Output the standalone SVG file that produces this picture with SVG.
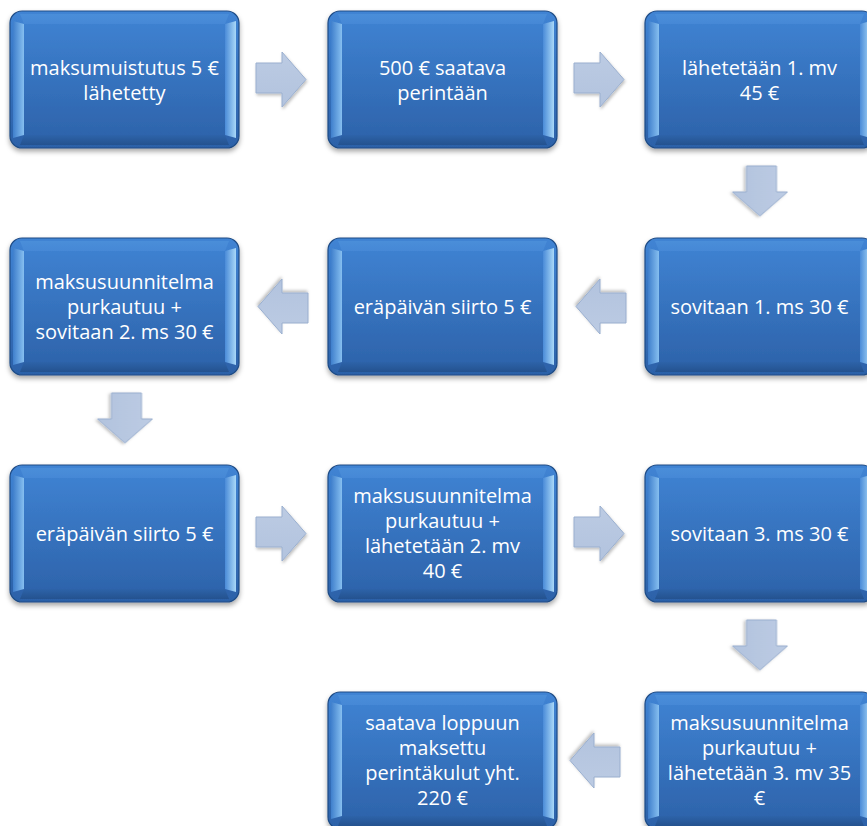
<svg xmlns="http://www.w3.org/2000/svg" xmlns:xlink="http://www.w3.org/1999/xlink" width="867" height="826" viewBox="0 0 867 826">
<defs>
  <linearGradient id="face" x1="0" y1="0" x2="0" y2="1">
    <stop offset="0" stop-color="#4084d4"/>
    <stop offset="1" stop-color="#2c61a8"/>
  </linearGradient>
  <linearGradient id="bevL" x1="0" y1="0" x2="1" y2="0">
    <stop offset="0" stop-color="#3f7fcc"/>
    <stop offset="1" stop-color="#86bff0"/>
  </linearGradient>
  <linearGradient id="bevR" x1="0" y1="0" x2="1" y2="0">
    <stop offset="0" stop-color="#4a8bd8"/>
    <stop offset="1" stop-color="#a9d8f8"/>
  </linearGradient>
  <linearGradient id="bevT" x1="0" y1="0" x2="0" y2="1">
    <stop offset="0" stop-color="#4a8ed9"/>
    <stop offset="1" stop-color="#4688d6"/>
  </linearGradient>
  <linearGradient id="bevB" x1="0" y1="0" x2="0" y2="1">
    <stop offset="0" stop-color="#2d63a9"/>
    <stop offset="1" stop-color="#24528f"/>
  </linearGradient>
  <linearGradient id="arrFill" x1="0" y1="0" x2="0" y2="1">
    <stop offset="0" stop-color="#bccbe3"/>
    <stop offset="1" stop-color="#b2c3de"/>
  </linearGradient>
  <filter id="sh" x="-10%" y="-10%" width="120%" height="130%">
    <feDropShadow dx="0" dy="3" stdDeviation="2.5" flood-color="#000" flood-opacity="0.35"/>
  </filter>
  <filter id="ash" x="-20%" y="-20%" width="140%" height="140%">
    <feDropShadow dx="1" dy="2" stdDeviation="1.5" flood-color="#000" flood-opacity="0.25"/>
  </filter>
  <g id="box">
    <rect x="0" y="0" width="229" height="137" rx="12" fill="url(#face)" stroke="#1f4b85" stroke-width="1.2" filter="url(#sh)"/>
    <path d="M10,3 H219 L215,13 H14 Z" fill="url(#bevT)"/>
    <path d="M14,124 H215 L219,134 H10 Z" fill="url(#bevB)"/>
    <path d="M3,10 L14,13 V124 L3,127 Z" fill="url(#bevL)"/>
    <path d="M226,10 L215,13 V124 L226,127 Z" fill="url(#bevR)"/>
  </g>
  <path id="arr" d="M0,11 H26 V0 L50,27.5 L26,55 V41 H0 Z"/>
</defs>
<style>
  .lbl { font-family: "Open Sans", "Liberation Sans", sans-serif; font-size: 20px; fill: #ffffff; text-anchor: middle; }
  .arrow { fill: url(#arrFill); stroke: #9aafcf; stroke-width: 1; filter: url(#ash); }
</style>

<g id="connectors">
  <use xlink:href="#arr" class="arrow" transform="translate(256,52)"/>
  <use xlink:href="#arr" class="arrow" transform="translate(574,52)"/>
  <use xlink:href="#arr" class="arrow" transform="translate(787.5,166) rotate(90)"/>
  <use xlink:href="#arr" class="arrow" transform="translate(626,334) rotate(180)"/>
  <use xlink:href="#arr" class="arrow" transform="translate(308,334) rotate(180)"/>
  <use xlink:href="#arr" class="arrow" transform="translate(152.5,393) rotate(90)"/>
  <use xlink:href="#arr" class="arrow" transform="translate(256,506)"/>
  <use xlink:href="#arr" class="arrow" transform="translate(574,506)"/>
  <use xlink:href="#arr" class="arrow" transform="translate(787.5,620) rotate(90)"/>
  <use xlink:href="#arr" class="arrow" transform="translate(620,788) rotate(180)"/>
</g>

<g id="n1">
  <use xlink:href="#box" x="10" y="11"/>
  <text class="lbl" x="124.5" y="74.5">maksumuistutus 5 €</text>
  <text class="lbl" x="124.5" y="99.5">lähetetty</text>
</g>
<g id="n2">
  <use xlink:href="#box" x="328" y="11"/>
  <text class="lbl" x="442.5" y="74.5">500 € saatava</text>
  <text class="lbl" x="442.5" y="99.5">perintään</text>
</g>
<g id="n3">
  <use xlink:href="#box" x="645" y="11"/>
  <text class="lbl" x="759.5" y="74.5">lähetetään 1. mv</text>
  <text class="lbl" x="759.5" y="99.5">45 €</text>
</g>
<g id="n4">
  <use xlink:href="#box" x="645" y="238"/>
  <text class="lbl" x="759.5" y="313.5">sovitaan 1. ms 30 €</text>
</g>
<g id="n5">
  <use xlink:href="#box" x="328" y="238"/>
  <text class="lbl" x="442.5" y="313.5">eräpäivän siirto 5 €</text>
</g>
<g id="n6">
  <use xlink:href="#box" x="10" y="238"/>
  <text class="lbl" x="124.5" y="288.5">maksusuunnitelma</text>
  <text class="lbl" x="124.5" y="313.5">purkautuu +</text>
  <text class="lbl" x="124.5" y="338.5">sovitaan 2. ms 30 €</text>
</g>
<g id="n7">
  <use xlink:href="#box" x="10" y="465"/>
  <text class="lbl" x="124.5" y="540.5">eräpäivän siirto 5 €</text>
</g>
<g id="n8">
  <use xlink:href="#box" x="328" y="465"/>
  <text class="lbl" x="442.5" y="503">maksusuunnitelma</text>
  <text class="lbl" x="442.5" y="528">purkautuu +</text>
  <text class="lbl" x="442.5" y="553">lähetetään 2. mv</text>
  <text class="lbl" x="442.5" y="578">40 €</text>
</g>
<g id="n9">
  <use xlink:href="#box" x="645" y="465"/>
  <text class="lbl" x="759.5" y="540.5">sovitaan 3. ms 30 €</text>
</g>
<g id="n10">
  <use xlink:href="#box" x="645" y="692"/>
  <text class="lbl" x="759.5" y="730">maksusuunnitelma</text>
  <text class="lbl" x="759.5" y="755">purkautuu +</text>
  <text class="lbl" x="759.5" y="780">lähetetään 3. mv 35</text>
  <text class="lbl" x="759.5" y="805">€</text>
</g>
<g id="n11">
  <use xlink:href="#box" x="328" y="692"/>
  <text class="lbl" x="442.5" y="730">saatava loppuun</text>
  <text class="lbl" x="442.5" y="755">maksettu</text>
  <text class="lbl" x="442.5" y="780">perintäkulut yht.</text>
  <text class="lbl" x="442.5" y="805">220 €</text>
</g>
</svg>
